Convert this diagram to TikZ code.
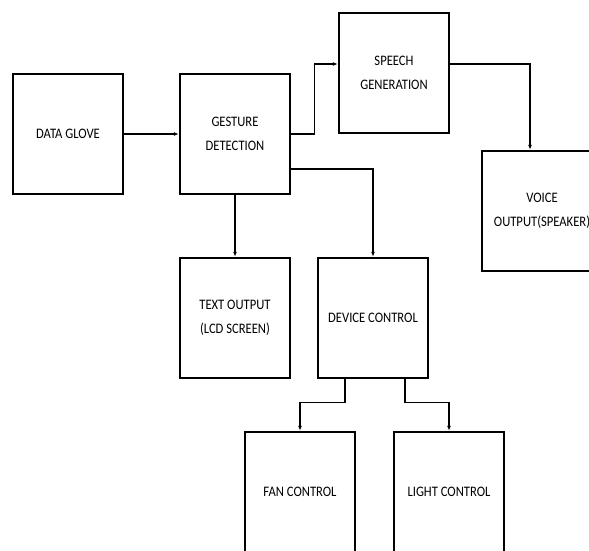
\documentclass[tikz,border=0pt]{standalone}
\usepackage{fontspec}
\setmainfont{Carlito}[FakeStretch=0.87]
\usetikzlibrary{positioning, arrows.meta}
\tikzset{
    block/.style={
        draw,
        rectangle,
        line width=2.4pt,
        minimum width=110pt,
        minimum height=120pt,
        align=center,
        inner sep=2pt,
        font=\fontsize{14.5}{24}\selectfont,
    },
    link/.style={
        line width=1.1pt,
        -{Latex[length=5pt,width=4pt]},
    }
}

\begin{document}
\begin{tikzpicture}
   \clip (0,0) rectangle (589pt,-551pt);
   \node[block] (glove) at (68pt,-134pt) {DATA GLOVE};
   \node[block, right=54.6pt of glove] (gesture) {GESTURE\\DETECTION};
   \node[block, right=46.6pt of gesture, yshift=61pt] (speech) {SPEECH\\GENERATION};
   \node[block, minimum width=120pt, right=30.6pt of speech, yshift=-138pt] (voice) {VOICE\\OUTPUT(SPEAKER)};
   \node[block, below=61.6pt of gesture] (text) {TEXT OUTPUT\\(LCD SCREEN)};
   \node[block, right=25.6pt of text] (device) {DEVICE CONTROL};
   \node[block, below=51.6pt of device, xshift=-73pt] (fan) {FAN CONTROL};
   \node[block, right=36.6pt of fan] (light) {LIGHT CONTROL};
   \draw[link] (glove.east) to (gesture.west);
   \draw[link] (gesture.east) -- ++(23pt,0) |- ([yshift=9pt]speech.west);
   \draw[link] ([yshift=-35pt]gesture.east) -| (device.north);
   \draw[link] ([yshift=9pt]speech.east) -| ([xshift=-12pt]voice.north);
   \draw[link] (gesture.south) to (text.north);
   \draw[link] ([xshift=-28pt]device.south) -- ++(0,-23pt) -| (fan.north);
   \draw[link] ([xshift=32pt]device.south) -- ++(0,-23pt) -| (light.north);
\end{tikzpicture}
\end{document}
